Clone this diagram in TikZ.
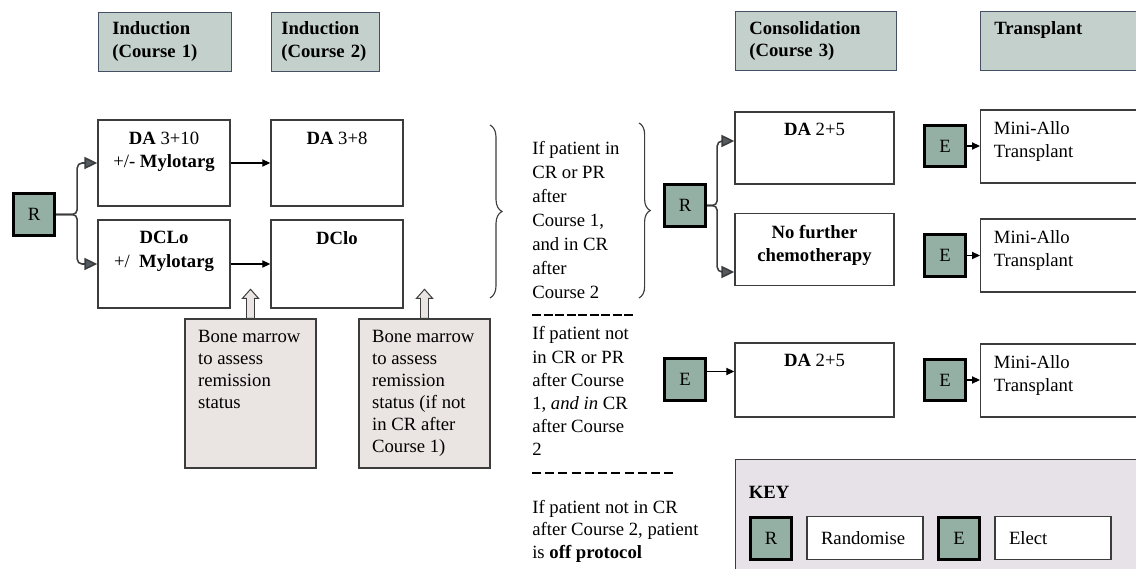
\documentclass[tikz,border=0pt]{standalone}
\usepackage{fontspec}
\setmainfont{Liberation Serif}
\usetikzlibrary{arrows.meta,calc,decorations.pathreplacing}

\definecolor{hdrfill}{RGB}{196,208,204}
\definecolor{hdredge}{RGB}{70,80,100}
\definecolor{rfill}{RGB}{148,176,164}
\definecolor{notefill}{RGB}{234,228,226}
\definecolor{keyfill}{RGB}{230,226,232}
\definecolor{tipfill}{RGB}{84,92,98}
\definecolor{edge}{RGB}{60,60,60}

\begin{document}
\begin{tikzpicture}[x=0.025cm, y=-0.025cm, font=\fontsize{13.3}{16.5}\selectfont,
  hdr/.style={draw=hdredge, fill=hdrfill, anchor=west, minimum height=1.475cm, align=left,
    inner xsep=0.35cm, font=\fontsize{13.3}{16}\selectfont\bfseries},
  stage/.style={draw=edge, line width=1pt, fill=white, minimum width=3.3cm, minimum height=2.15cm},
  wide/.style={stage, minimum width=3.975cm, minimum height=1.8cm},
  allo/.style={stage, anchor=west, minimum width=4.5cm, minimum height=1.825cm},
  rbox/.style={draw=black, line width=2pt, fill=rfill, minimum size=1.04cm, inner sep=0pt},
  note/.style={draw=edge, line width=1pt, fill=notefill, minimum width=3.275cm, minimum height=3.725cm},
  toplbl/.style={anchor=north, align=center, inner sep=0pt, yshift=-0.3cm},
  cornerlbl/.style={anchor=north west, align=left, inner sep=0pt, xshift=0.34cm, yshift=-0.3cm},
  cond/.style={anchor=north west, align=left, inner sep=0pt},
  keyitem/.style={draw=edge, line width=1pt, fill=white, minimum height=1.075cm, text width=2.2cm,
    inner xsep=0.35cm, align=left},
  branch/.style={draw=edge, line width=1.1pt, rounded corners=3.5pt,
    -{Triangle[length=0.32cm, width=0.3cm, fill=tipfill]}},
  fwd/.style={draw=black, line width=0.8pt, -{Triangle[length=0.2cm, width=0.18cm]}},
  brc/.style={draw=edge, line width=0.8pt, decorate, decoration={brace, amplitude=0.3cm}},
  sepline/.style={draw=black, line width=2pt},
  marrowarr/.style={draw=edge, line width=0.7pt, fill=notefill}]

\useasboundingbox (0,0) rectangle (1136,569);
\clip (0,0) rectangle (1136,569);

% stage headings
\node[hdr, text width=2.625cm] (ind1) at (98,41.5) {Induction\\(Course 1)};
\node[hdr, text width=2.2cm, inner xsep=0.25cm] (ind2) at (271,41.5) {Induction\\(Course 2)};
\node[hdr, text width=3.325cm] (cons) at (735,41) {Consolidation\\(Course 3)};
\node[hdr, text width=3.6cm] (trans) at (980,41) {Transplant\\\phantom{(Course)}};

% induction courses
\node[rbox] (rL) at (34,214.5) {R};
\node[stage, label={[toplbl]north:{\textbf{DA} 3+10\\+/- \textbf{Mylotarg}}}] (da310) at (164,163) {};
\node[stage, minimum height=2.2cm, label={[toplbl]north:{\textbf{DCLo}\\+/\ \ \textbf{Mylotarg}}}] (dclo1) at (164,264) {};
\node[stage, label={[toplbl]north:{\textbf{DA} 3+8}}] (da38) at (337,163) {};
\node[stage, minimum height=2.2cm, label={[toplbl]north:{\textbf{DClo}}}] (dclo2) at (337,264) {};

\draw[branch] (rL.east) -- ++(21,0) |- (da310.west);
\draw[branch] (rL.east) -- ++(21,0) |- (dclo1.west);
\draw[fwd] (da310.east) -- (da38.west);
\draw[fwd] (dclo1.east) -- (dclo2.west);

% bone marrow checks
\tikzset{every label/.append style={font=\fontsize{13.3}{15.6}\selectfont}}
\node[note, label={[cornerlbl]north west:{Bone marrow\\to assess\\remission\\status}}] (bm1) at (250.5,393.5) {};
\node[note, label={[cornerlbl]north west:{Bone marrow\\to assess\\remission\\status (if not\\in CR after\\Course 1)}}] (bm2) at (424.5,393.5) {};
\foreach \b in {bm1,bm2}
  \draw[marrowarr] (\b.north) ++(-4,0) -- ++(0,-20) -- ++(-4,0) -- ++(8,-9) -- ++(8,9)
    -- ++(-4,0) -- ++(0,20) -- cycle;
\tikzset{every label/.append style={font=\fontsize{13.3}{16.5}\selectfont}}

% conditions
\draw[brc] (490,125) -- (490,298);
\draw[brc, decoration={amplitude=0.28cm}] (639,123) -- (639,298);
\node[cond, font=\fontsize{13.3}{17}\selectfont] (c1) at (532,141.5)
  {If patient in\\CR or PR\\after\\Course 1,\\and in CR\\after\\Course 2};
\draw[sepline, dash pattern=on 6.4pt off 1.8pt] (532,315) -- (633,315);
\node[cond] (c2) at (532,326.5)
  {If patient not\\in CR or PR\\after Course\\1, \emph{and in} CR\\after Course\\2};
\draw[sepline, dash pattern=on 6.4pt off 3pt] (532,473) -- (673,473);
\node[cond, font=\fontsize{13.3}{16}\selectfont] (c3) at (532,500)
  {If patient not in CR\\after Course 2, patient\\is \textbf{off protocol}};

% consolidation
\node[rbox] (rR) at (685,205.5) {R};
\node[wide, label={[toplbl]north:{\textbf{DA} 2+5}}] (da25a) at (814.5,148) {};
\node[wide, label={[toplbl]north:{\textbf{No further}\\\textbf{chemotherapy}}}] (nofur) at (814.5,249.5) {};
\node[rbox] (e0) at (685,379.5) {E};
\node[wide, minimum height=1.85cm, label={[toplbl]north:{\textbf{DA} 2+5}}] (da25b) at (814.5,380) {};

\draw[branch] (rR.east) -- ++(10,0) |- ($(da25a.west)+(0,-7)$);
\draw[branch] (rR.east) -- ++(10,0) |- ($(nofur.west)+(0,22.5)$);
\draw[fwd] ([yshift=2mm]e0.east) -- ([yshift=2mm]e0.east -| da25b.west);

% transplant
\node[rbox] (e1) at (945,146) {E};
\node[rbox] (e2) at (945,255.5) {E};
\node[rbox] (e3) at (945,380) {E};
\node[allo, label={[cornerlbl]north west:{Mini-Allo\\Transplant}}] (allo1) at (980,146.5) {};
\node[allo, label={[cornerlbl]north west:{Mini-Allo\\Transplant}}] (allo2) at (980,255.5) {};
\node[allo, label={[cornerlbl]north west:{Mini-Allo\\Transplant}}] (allo3) at (980,380.5) {};
\foreach \i in {1,2,3}
  \draw[fwd] (e\i.east) -- (e\i.east -| allo\i.west);

% key
\node[draw=edge, line width=1pt, fill=keyfill, anchor=north west, minimum width=11cm, minimum height=3.4cm,
  label={[cornerlbl, yshift=-0.37cm, font=\fontsize{13.3}{16}\selectfont\bfseries]north west:KEY}] (key) at (735,459) {};
\node[rbox] (kr) at (771,538.5) {R};
\node[keyitem] (krand) at (865,538) {Randomise};
\node[rbox] (ke) at (959,538.5) {E};
\node[keyitem] (kelect) at (1053,538) {Elect};

\end{tikzpicture}
\end{document}
